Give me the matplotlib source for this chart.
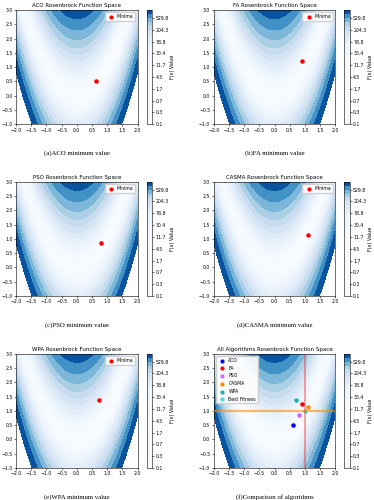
"""Rosenbrock function space with the best points found by each algorithm."""

import numpy as np
import matplotlib

matplotlib.use("Agg")
import matplotlib.pyplot as plt

# best positions found by each algorithm
ALGOS = ["ACO", "FA", "PSO", "CASMA", "WPA"]
BEST_X = [0.62, 0.90, 0.80, 1.10, 0.72]
BEST_Y = [0.52, 1.23, 0.87, 1.12, 1.38]
COLORS = ["blue", "red", "#cc66ff", "darkorange", "lightseagreen"]
CAPTIONS = ["(a)ACO minimum value", "(b)FA minimum value", "(c)PSO minimum value",
            "(d)CASMA minimum value", "(e)WPA minimum value", "(f)Comparison of algorithms"]
GLOBAL_MIN = (1.0, 1.0)

LEVELS = np.logspace(-1, 3, 30)
XTICKS = [-2.0, -1.5, -1.0, -0.5, 0.0, 0.5, 1.0, 1.5, 2.0]
YTICKS = [-1.0, -0.5, 0.0, 0.5, 1.0, 1.5, 2.0, 2.5, 3.0]

x = np.linspace(-2, 2, 400)
y = np.linspace(-1, 3, 400)
X, Y = np.meshgrid(x, y)
Z = (1 - X) ** 2 + 100 * (Y - X ** 2) ** 2

W, H = 374, 500
fig = plt.figure(figsize=(W / 100, H / 100), dpi=100)

col_left = [16, 213.7]
row_top = [10, 181.7, 353.7]
ax_w, ax_h = 121.7, 114.3


def panel(i):
    r, c = divmod(i, 2)
    l, t = col_left[c], row_top[r]
    ax = fig.add_axes([l / W, 1 - (t + ax_h) / H, ax_w / W, ax_h / H])
    cax = fig.add_axes([(l + 130.7) / W, 1 - (t + ax_h) / H, 5.3 / W, ax_h / H])
    cs = ax.contourf(X, Y, Z, levels=LEVELS, cmap="Blues")
    cb = fig.colorbar(cs, cax=cax)
    cb.set_ticks(LEVELS[::3])
    cb.set_ticklabels([f"{v:.1f}" for v in LEVELS[::3]])
    cb.ax.tick_params(labelsize=3.3, length=1.5, width=0.4, pad=1)
    cb.outline.set_linewidth(0.4)
    cb.set_label("F(x) Value", fontsize=3.5, labelpad=1)
    ax.set_xticks(XTICKS)
    ax.set_yticks(YTICKS)
    ax.tick_params(labelsize=3.3, length=1.5, width=0.4, pad=1)
    for s in ax.spines.values():
        s.set_linewidth(0.4)
    fig.text((l + ax_w / 2) / W, 1 - (t + 143) / H, CAPTIONS[i],
             ha="center", va="center", fontsize=4.9, family="Liberation Serif")
    return ax


for i, name in enumerate(ALGOS):
    ax = panel(i)
    ax.scatter(BEST_X[i], BEST_Y[i], color="red", s=5, label="Minima", zorder=3)
    ax.set_title(f"{name} Rosenbrock Function Space", fontsize=4, pad=2)
    ax.legend(loc="upper right", fontsize=3.3, markerscale=0.9, handletextpad=0.3,
              borderpad=0.4, framealpha=0.9)

ax = panel(5)
for name, bx, by, c in zip(ALGOS, BEST_X, BEST_Y, COLORS):
    ax.scatter(bx, by, color=c, s=5, label=name, zorder=3)
ax.scatter(*GLOBAL_MIN, color="turquoise", s=5, label="Best Fitness", zorder=3)
ax.axvline(GLOBAL_MIN[0], color="red", alpha=0.35, lw=1.5, zorder=4)
ax.axhline(GLOBAL_MIN[1], color="darkorange", alpha=0.6, lw=1.5, zorder=4)
ax.set_title("All Algorithms Rosenbrock Function Space", fontsize=4, pad=2)
ax.legend(loc="upper left", fontsize=3.3, markerscale=0.9, handletextpad=0.3,
          borderpad=0.4, labelspacing=0.6, framealpha=0.9)

fig.savefig("out.png", dpi=100)
